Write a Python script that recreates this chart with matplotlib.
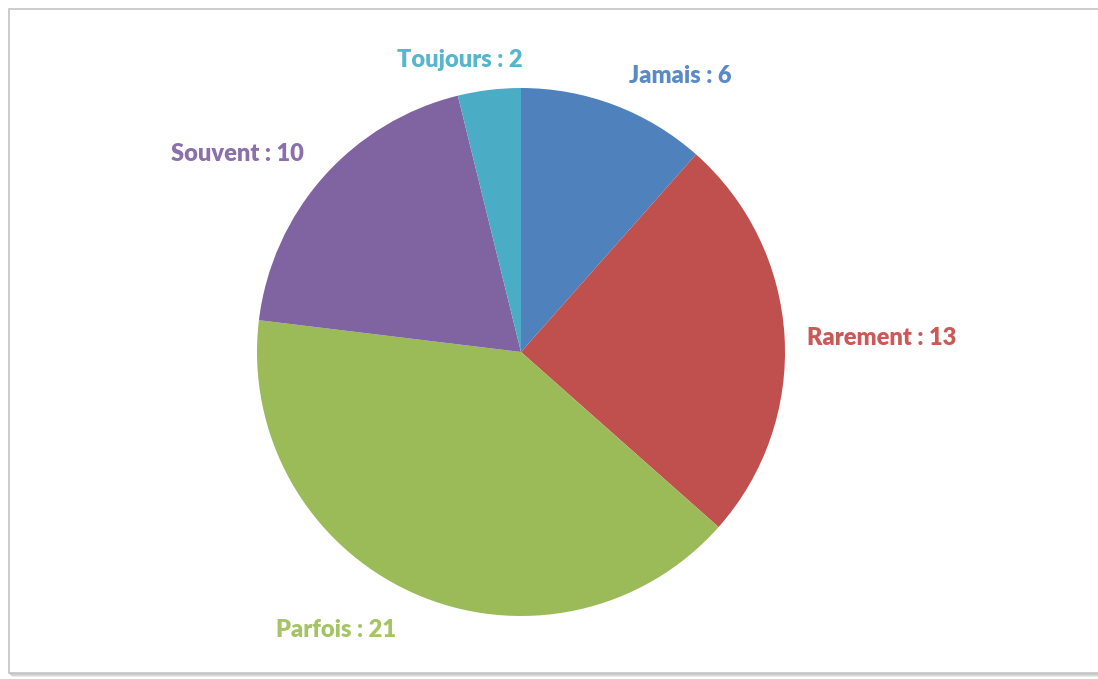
import matplotlib
matplotlib.use("Agg")
import matplotlib.pyplot as plt
from matplotlib.patches import Rectangle

categories = ["Jamais", "Rarement", "Parfois", "Souvent", "Toujours"]
values = [6, 13, 21, 10, 2]
colors = ["#4F81BD", "#C0504D", "#9BBB59", "#8064A2", "#4BACC6"]
label_colors = ["#5B8BC6", "#C95A57", "#A5C466", "#8B70AC", "#57B5CC"]

W, H = 1098, 679
fig = plt.figure(figsize=(W / 100, H / 100), dpi=100)
ax = fig.add_axes([0, 0, 1, 1])
ax.set_xlim(0, W)
ax.set_ylim(0, H)
ax.set_aspect("equal")
ax.axis("off")

# frame with soft shadow
for off, c in [(3, "#e6e6e6"), (2, "#d6d6d6"), (1, "#c8c8c8")]:
    ax.add_patch(Rectangle((9 + off, H - 673 - off), 1200, 664, fill=False,
                           edgecolor=c, linewidth=1.2))
ax.add_patch(Rectangle((9, H - 673), 1200, 664, facecolor="white",
                       edgecolor="#c4c4c4", linewidth=1.2))

cx, cy, r = 521, H - 352, 264
ax.pie(values, colors=colors, startangle=90, counterclock=False,
       center=(cx, cy), radius=r, frame=True,
       wedgeprops=dict(linewidth=0))
ax.set_xlim(0, W)
ax.set_ylim(0, H)
ax.axis("off")

label_pos = {"Jamais": (680, 76), "Rarement": (882, 338), "Parfois": (336, 630),
             "Souvent": (237, 154), "Toujours": (460, 60)}
for cat, v, lc in zip(categories, values, label_colors):
    x, y = label_pos[cat]
    ax.text(x, H - y, f"{cat} : {v}", color=lc, fontsize=17,
            fontweight="heavy", family="Lato", ha="center", va="center")

fig.savefig("out.png", dpi=100)
